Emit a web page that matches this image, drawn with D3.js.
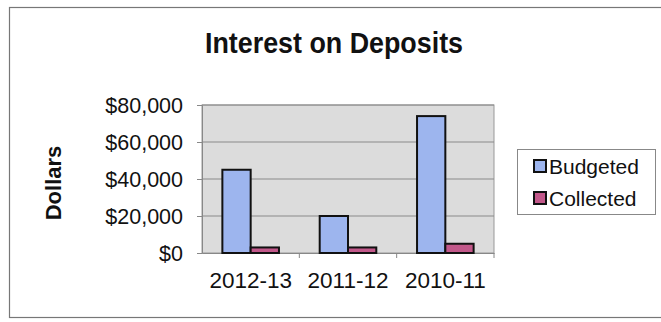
<!DOCTYPE html>
<html>
<head>
<meta charset="utf-8">
<script src="https://cdn.jsdelivr.net/npm/d3@7"></script>
<style>
  body { margin: 0; background: #fff; }
  text { font-family: "Liberation Sans", Arial, sans-serif; fill: #111; }
</style>
</head>
<body>
<script>
var width = 661;
var height = 322;

var categories = ["2012-13", "2011-12", "2010-11"];
var seriesNames = ["Budgeted", "Collected"];
var budgeted = [45000, 20000, 74000];
var collected = [3000, 3000, 5000];
var yTicks = [0, 20000, 40000, 60000, 80000];

var colors = { Budgeted: "#9db5ee", Collected: "#c2588a" };

var plot = { left: 202, top: 105, right: 494, bottom: 253 };

var svg = d3.select("body")
            .append("svg")
            .attr("width", width)
            .attr("height", height);

// outer chart frame
svg.append("rect")
   .attr("x", 9.5).attr("y", 7.5)
   .attr("width", 670).attr("height", 310)
   .attr("fill", "none")
   .attr("stroke", "#777")
   .attr("stroke-width", 1.2);

var x0 = d3.scaleBand()
           .domain(categories)
           .range([plot.left, plot.right]);

var x1 = d3.scaleBand()
           .domain(seriesNames)
           .range([0, x0.bandwidth()])
           .paddingInner(0)
           .paddingOuter(0.72);

var y = d3.scaleLinear()
          .domain([0, 80000])
          .range([plot.bottom, plot.top]);

// plot background
svg.append("rect")
   .attr("x", plot.left).attr("y", plot.top)
   .attr("width", plot.right - plot.left)
   .attr("height", plot.bottom - plot.top)
   .attr("fill", "#dcdcdc")
   .attr("stroke", "#999")
   .attr("stroke-width", 1);

// gridlines
svg.selectAll("line.grid")
   .data(yTicks.slice(1))
   .enter()
   .append("line")
   .attr("class", "grid")
   .attr("x1", plot.left).attr("x2", plot.right)
   .attr("y1", function(d) { return y(d); })
   .attr("y2", function(d) { return y(d); })
   .attr("stroke", "#8a8a8a")
   .attr("stroke-width", 1);

// y axis
var yAxis = d3.axisLeft(y)
              .tickValues(yTicks)
              .tickSize(5)
              .tickPadding(14)
              .tickFormat(function(d) { return "$" + d3.format(",")(d); });

var gy = svg.append("g")
            .attr("transform", "translate(" + plot.left + ",0)")
            .call(yAxis);
gy.select(".domain").attr("stroke", "#888");
gy.selectAll(".tick line").attr("stroke", "#888");
gy.selectAll("text")
  .attr("font-size", "21.5px")
  .attr("fill", "#111")
  .attr("dy", "0.36em");

// x axis
var xAxis = d3.axisBottom(x0)
              .tickSize(0)
              .tickPadding(19);

var gx = svg.append("g")
            .attr("transform", "translate(0," + plot.bottom + ")")
            .call(xAxis);
gx.select(".domain").attr("stroke", "#888");
gx.selectAll("text")
  .attr("font-size", "22.5px")
  .attr("fill", "#111");

// category separators
svg.selectAll("line.sep")
   .data(categories.slice(1).concat(["end"]))
   .enter()
   .append("line")
   .attr("class", "sep")
   .attr("x1", function(d, i) { return plot.left + (i + 1) * x0.step(); })
   .attr("x2", function(d, i) { return plot.left + (i + 1) * x0.step(); })
   .attr("y1", plot.bottom)
   .attr("y2", plot.bottom + 5)
   .attr("stroke", "#888");

// bars
var groups = svg.selectAll("g.cat")
                .data(categories)
                .enter()
                .append("g")
                .attr("class", "cat")
                .attr("transform", function(d) { return "translate(" + x0(d) + ",0)"; });

groups.selectAll("rect")
      .data(function(d, i) {
          return [
            { key: "Budgeted", value: budgeted[i] },
            { key: "Collected", value: collected[i] }
          ];
      })
      .enter()
      .append("rect")
      .attr("x", function(d) { return x1(d.key); })
      .attr("y", function(d) { return y(d.value); })
      .attr("width", x1.bandwidth())
      .attr("height", function(d) { return plot.bottom - y(d.value); })
      .attr("fill", function(d) { return colors[d.key]; })
      .attr("stroke", "#111")
      .attr("stroke-width", 2);

// title
svg.append("text")
   .attr("x", 205)
   .attr("y", 53)
   .attr("font-size", "29px")
   .attr("font-weight", "bold")
   .attr("textLength", 258)
   .attr("lengthAdjust", "spacingAndGlyphs")
   .text("Interest on Deposits");

// y axis title
svg.append("text")
   .attr("transform", "translate(61,183) rotate(-90)")
   .attr("text-anchor", "middle")
   .attr("font-size", "22px")
   .attr("font-weight", "bold")
   .text("Dollars");

// legend
var legend = svg.append("g");
legend.append("rect")
      .attr("x", 517.5).attr("y", 149.5)
      .attr("width", 138).attr("height", 65)
      .attr("fill", "#fff")
      .attr("stroke", "#888")
      .attr("stroke-width", 1);

var items = legend.selectAll("g.item")
                  .data(seriesNames)
                  .enter()
                  .append("g")
                  .attr("class", "item")
                  .attr("transform", function(d, i) { return "translate(534," + (166 + i * 32) + ")"; });

items.append("rect")
     .attr("x", 0).attr("y", -6)
     .attr("width", 12).attr("height", 12)
     .attr("fill", function(d) { return colors[d]; })
     .attr("stroke", "#111")
     .attr("stroke-width", 2);

items.append("text")
     .attr("x", 15)
     .attr("y", 0)
     .attr("dy", "0.36em")
     .attr("font-size", "21px")
     .text(function(d) { return d; });
</script>
</body>
</html>
